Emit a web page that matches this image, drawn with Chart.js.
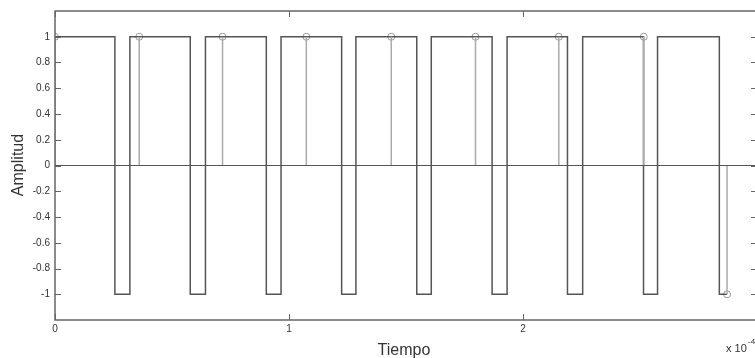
<!DOCTYPE html>
<html>
<head>
<meta charset="utf-8">
<title>Amplitud vs Tiempo</title>
<script src="https://cdn.jsdelivr.net/npm/chart.js@4/dist/chart.umd.min.js"></script>
<style>
  html, body { margin: 0; padding: 0; background: #fff; overflow: hidden; }
  #wrap { width: 760px; height: 358px; position: relative; }
</style>
</head>
<body>
<div id="wrap"><canvas id="signalChart"></canvas></div>
<script>
'use strict';

// square wave: starts high at 0, falls to -1 and comes back up (units x1e-4 s)
var waveStart = 0;
var waveFall = [0.256, 0.578, 0.903, 1.225, 1.546, 1.868, 2.190, 2.515, 2.839];
var waveRise = [0.320, 0.643, 0.966, 1.286, 1.608, 1.932, 2.255, 2.575];
var waveEnd = 2.872;

// sampled values (stem plot)
var sampleTimes = [0, 0.360, 0.716, 1.074, 1.437, 1.797, 2.153, 2.516, 2.872];
var sampleValues = [1, 1, 1, 1, 1, 1, 1, 1, -1];

var xTicks = [0, 1, 2, 3];
var yTicks = [-1, -0.8, -0.6, -0.4, -0.2, 0, 0.2, 0.4, 0.6, 0.8, 1];
var xMin = 0, xMax = 3;
var yMin = -1.2, yMax = 1.2;

(function() {
  var FONT = '"Liberation Sans", Arial, sans-serif';
  var TEXT = '#333';
  var AXIS = '#666';

  function buildWave() {
    var pts = [{ x: waveStart, y: 1 }];
    waveFall.forEach(function(t, i) {
      pts.push({ x: t, y: 1 });
      pts.push({ x: t, y: -1 });
      if (i < waveRise.length) {
        pts.push({ x: waveRise[i], y: -1 });
        pts.push({ x: waveRise[i], y: 1 });
      }
    });
    pts.push({ x: waveEnd, y: -1 });
    return pts;
  }

  function buildStems() {
    var pts = [];
    sampleTimes.forEach(function(t, i) {
      pts.push({ x: t, y: 0 });
      pts.push({ x: t, y: sampleValues[i] });
      pts.push({ x: t, y: null });
    });
    return pts;
  }

  // MATLAB-like box with inward ticks plus the axis texts
  var boxPlugin = {
    id: 'box',
    afterDraw: function(chart) {
      var ctx = chart.ctx;
      var a = chart.chartArea;
      var xs = chart.scales.x;
      var ys = chart.scales.y;
      var len = 6;
      ctx.save();
      ctx.strokeStyle = AXIS;
      ctx.lineWidth = 1.5;
      ctx.strokeRect(a.left, a.top, a.right - a.left, a.bottom - a.top);
      ctx.lineWidth = 1;
      ctx.beginPath();
      xTicks.forEach(function(v) {
        var px = Math.round(xs.getPixelForValue(v)) + 0.5;
        ctx.moveTo(px, a.bottom); ctx.lineTo(px, a.bottom - len);
        ctx.moveTo(px, a.top); ctx.lineTo(px, a.top + len);
      });
      yTicks.forEach(function(v) {
        var py = Math.round(ys.getPixelForValue(v)) + 0.5;
        ctx.moveTo(a.left, py); ctx.lineTo(a.left + len, py);
        ctx.moveTo(a.right, py); ctx.lineTo(a.right - len, py);
      });
      ctx.stroke();

      ctx.fillStyle = TEXT;
      ctx.font = '16px ' + FONT;
      ctx.textAlign = 'center';
      ctx.textBaseline = 'alphabetic';
      ctx.fillText('Tiempo', 404, 355);

      ctx.save();
      ctx.translate(23, 165);
      ctx.rotate(-Math.PI / 2);
      ctx.fillText('Amplitud', 0, 0);
      ctx.restore();

      ctx.textAlign = 'left';
      ctx.font = '11px ' + FONT;
      ctx.fillText('x 10', 726, 352);
      ctx.font = '8px ' + FONT;
      ctx.fillText('-4', 748, 344);
      ctx.restore();
    }
  };

  function draw() {
    var el = document.getElementById('signalChart');
    new Chart(el, {
      type: 'scatter',
      data: {
        datasets: [
          {
            label: 'base',
            data: [{ x: xMin, y: 0 }, { x: xMax, y: 0 }],
            showLine: true,
            borderColor: '#555',
            borderWidth: 1.2,
            pointRadius: 0
          },
          {
            label: 'muestras',
            data: buildStems(),
            showLine: true,
            spanGaps: false,
            borderColor: '#aaa',
            borderWidth: 1.5,
            pointRadius: 0
          },
          {
            label: 'señal',
            data: buildWave(),
            showLine: true,
            borderColor: '#555',
            borderWidth: 1.5,
            pointRadius: 0
          },
          {
            label: 'marcas',
            data: sampleTimes.map(function(t, i) { return { x: t, y: sampleValues[i] }; }),
            showLine: false,
            pointStyle: 'circle',
            pointRadius: 3.5,
            pointBorderWidth: 1,
            pointBorderColor: '#999',
            pointBackgroundColor: 'rgba(255,255,255,0)'
          }
        ]
      },
      options: {
        responsive: true,
        maintainAspectRatio: false,
        animation: false,
        events: [],
        layout: { autoPadding: false, padding: { top: 11, right: 2, left: 0, bottom: 0 } },
        plugins: {
          legend: { display: false },
          tooltip: { enabled: false }
        },
        scales: {
          x: {
            type: 'linear',
            min: xMin,
            max: xMax,
            afterFit: function(s) { s.height = 38; },
            afterBuildTicks: function(s) {
              s.ticks = xTicks.map(function(v) { return { value: v }; });
            },
            ticks: {
              padding: 3,
              maxRotation: 0,
              autoSkip: false,
              color: TEXT,
              font: { family: FONT, size: 10 },
              callback: function(v) { return v === xMax ? '' : String(v); }
            },
            grid: { display: false, drawTicks: false },
            border: { display: false }
          },
          y: {
            min: yMin,
            max: yMax,
            afterFit: function(s) { s.width = 55; },
            afterBuildTicks: function(s) {
              s.ticks = yTicks.map(function(v) { return { value: v }; });
            },
            ticks: {
              padding: 5,
              autoSkip: false,
              color: TEXT,
              font: { family: FONT, size: 10 },
              callback: function(v) { return String(Math.round(v * 10) / 10); }
            },
            grid: { display: false, drawTicks: false },
            border: { display: false }
          }
        }
      },
      plugins: [boxPlugin]
    });
  }

  if (document.readyState === 'loading') {
    document.addEventListener('DOMContentLoaded', draw);
  } else {
    draw();
  }
})();
</script>
</body>
</html>
